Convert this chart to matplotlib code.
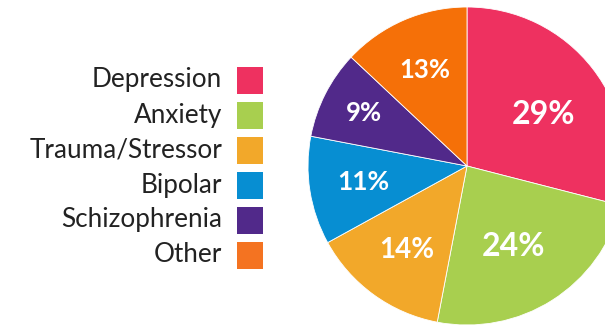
import numpy as np
import matplotlib
matplotlib.use("Agg")
import matplotlib.pyplot as plt
from matplotlib.patches import Rectangle

plt.rcParams['font.family'] = ['Lato', 'DejaVu Sans']

# Datos del grafico
categorias = ["Depression", "Anxiety", "Trauma/Stressor", "Bipolar", "Schizophrenia", "Other"]
porcentajes = [29, 24, 14, 11, 9, 13]
colores_pie = ["#EE3160", "#A8CF4F", "#F2A82A", "#078ED2", "#51298A", "#F57008"]
colores_leyenda = ["#EE3160", "#A8CF4F", "#F2A82A", "#078ED2", "#51298A", "#F47321"]

# Estilo de las etiquetas (distancia al centro, giro y tamano)
distancias_etiqueta = [0.58, 0.585, 0.65, 0.66, 0.73, 0.66]
giros_etiqueta = [-4, -2.5, 0, 0, 0, 0]
tamanos_etiqueta = [23, 23, 20, 19, 18.5, 18.5]

W, H = 605, 327
fig = plt.figure(figsize=(W / 100, H / 100), dpi=100)

# Pie
cx, cy, r = 467, 166, 159
ax = fig.add_axes([(cx - r) / W, (H - cy - r) / H, 2 * r / W, 2 * r / H])
wedges, _ = ax.pie(porcentajes, colors=colores_pie, startangle=90, counterclock=False,
                   radius=1, wedgeprops=dict(linewidth=0.6, edgecolor="white"))
ax.set_xlim(-1, 1)
ax.set_ylim(-1, 1)
ax.set_aspect("auto")
ax.axis("off")

for w, p, d, g, s in zip(wedges, porcentajes, distancias_etiqueta, giros_etiqueta, tamanos_etiqueta):
    ang = np.deg2rad((w.theta1 + w.theta2) / 2 + g)
    ax.text(d * np.cos(ang), d * np.sin(ang), f"{p}%", ha="center", va="center",
            color="white", fontsize=s, fontweight="bold")

# Leyenda manual
lg = fig.add_axes([0, 0, 1, 1], zorder=-1)
lg.set_xlim(0, W)
lg.set_ylim(H, 0)
lg.axis("off")
y0, paso = 80, 35
for i, (cat, col) in enumerate(zip(categorias, colores_leyenda)):
    y = y0 + i * paso
    lg.text(222, y, cat, ha="right", va="center", fontsize=18.8, color="#222222")
    lg.add_patch(Rectangle((237, y - 13.5), 26, 27, color=col, linewidth=0))

fig.savefig("out.png", dpi=100)
